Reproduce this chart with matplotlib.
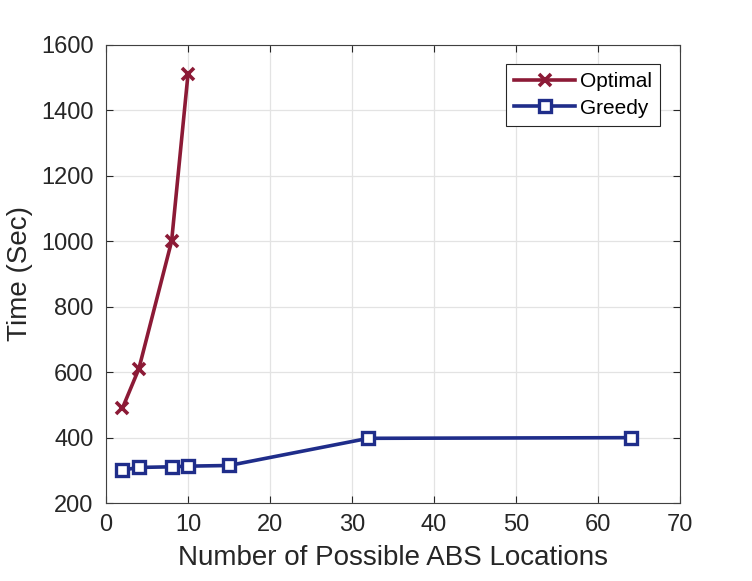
import matplotlib
matplotlib.use('Agg')
import matplotlib.pyplot as plt

plt.rcParams['font.family'] = ['Liberation Sans', 'DejaVu Sans']

# data
opt_x = [2, 4, 8, 10]
opt_y = [490, 610, 1000, 1510]
greedy_x = [2, 4, 8, 10, 15, 32, 64]
greedy_y = [301, 309, 311, 313, 315, 398, 400]

fig = plt.figure(figsize=(7.52, 5.81), dpi=100)
ax = fig.add_axes([0.141, 0.134, 0.763, 0.789])

ax.plot(opt_x, opt_y, '-x', color='#8c1a36', lw=2.6, ms=9, mew=2.6,
        label='Optimal')
ax.plot(greedy_x, greedy_y, '-s', color='#1f2d8a', lw=2.6, ms=9, mew=2.4,
        mfc='white', label='Greedy')

ax.set_xlim(0, 70)
ax.set_ylim(200, 1600)
ax.set_xticks(range(0, 71, 10))
ax.set_yticks(range(200, 1601, 200))
ax.grid(True, color='#e3e3e3', lw=0.9)
ax.set_axisbelow(True)
ax.tick_params(direction='in', length=5, labelsize=17, colors='#262626',
               top=True, right=True)
ax.tick_params(axis='y', pad=9)
ax.tick_params(axis='x', pad=8)
for s in ax.spines.values():
    s.set_color('#404040')
    s.set_linewidth(0.8)

ax.set_xlabel('Number of Possible ABS Locations', fontsize=20, color='#262626',
              labelpad=6)
ax.set_ylabel('Time (Sec)', fontsize=20, color='#262626', labelpad=6)

leg = ax.legend(loc='upper right', bbox_to_anchor=(0.966, 0.958), fontsize=15,
                fancybox=False, framealpha=1, edgecolor='#262626',
                handlelength=2.9, borderpad=0.4, borderaxespad=0,
                labelspacing=0.35, handletextpad=0.25)
leg.get_frame().set_linewidth(0.8)

fig.savefig('out.png', dpi=100)
